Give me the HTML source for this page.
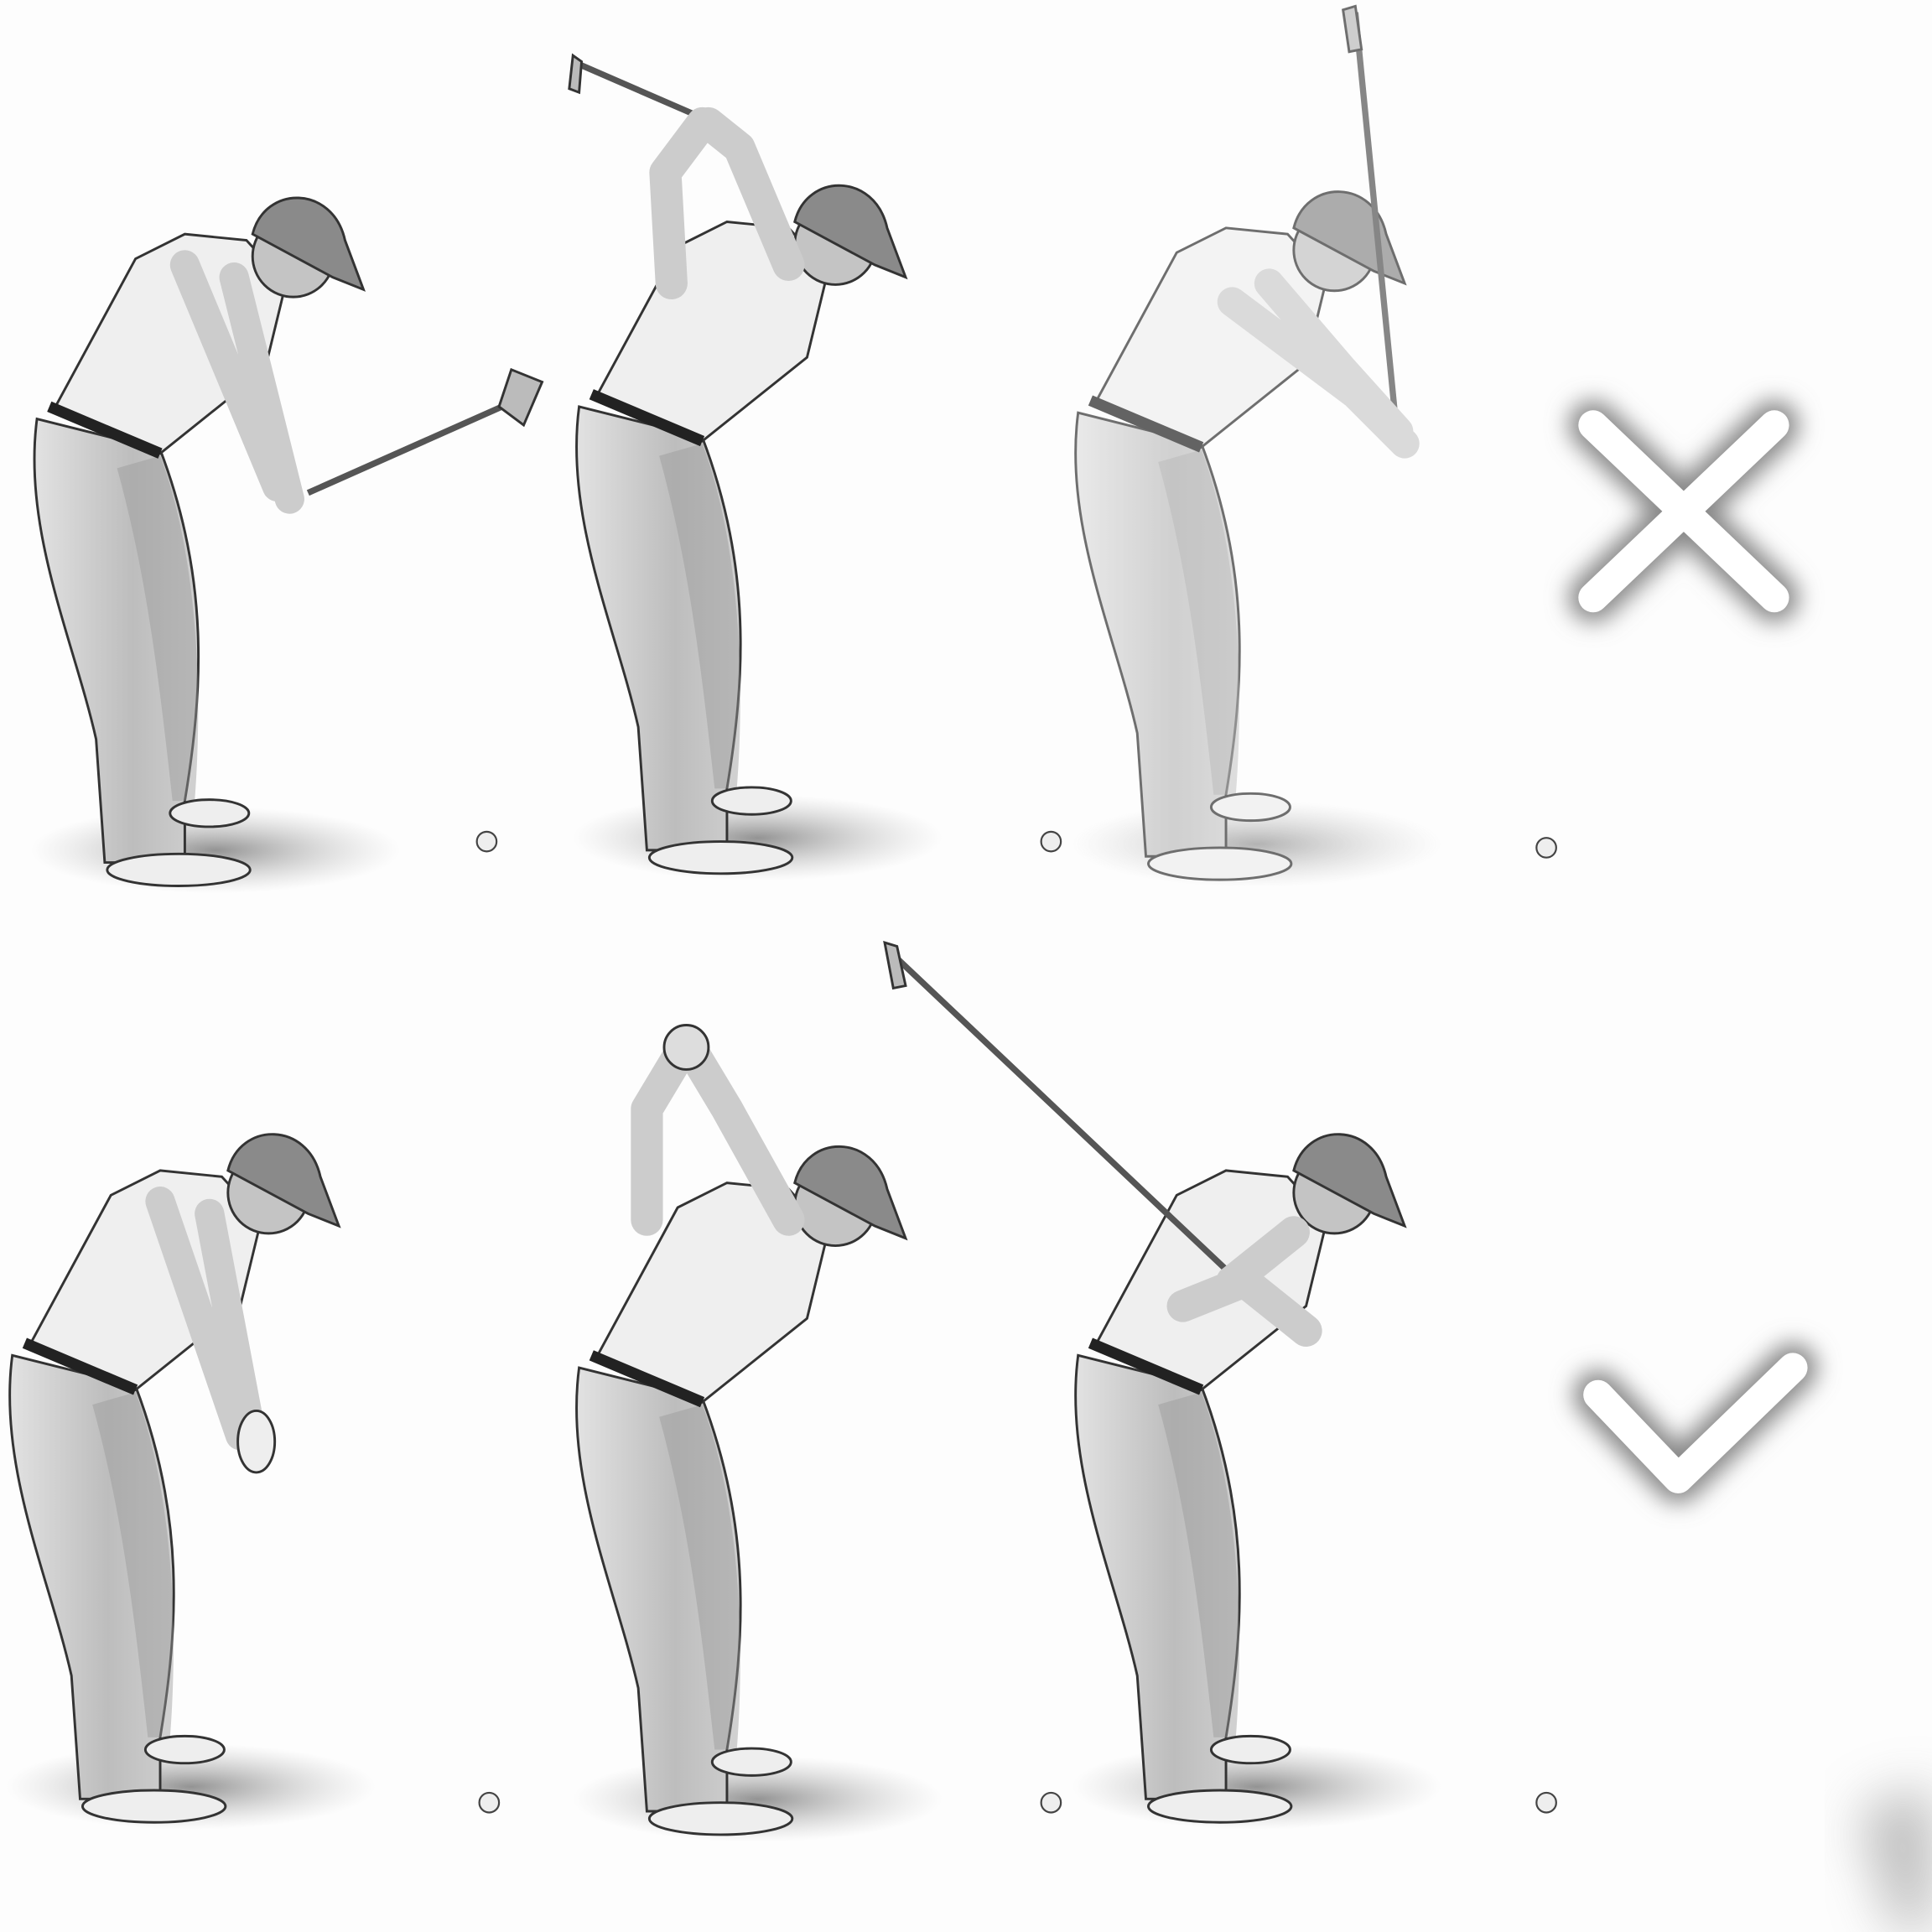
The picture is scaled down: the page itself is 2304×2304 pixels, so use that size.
<!DOCTYPE html>
<html><head><meta charset="utf-8"><style>
html,body{margin:0;padding:0;background:#fdfdfd;}
svg{display:block;}
</style></head><body>
<svg width="2304" height="2304" viewBox="0 0 1568 1568" xmlns="http://www.w3.org/2000/svg">
<defs>
  <filter id="glow" x="-50%" y="-50%" width="200%" height="200%"><feGaussianBlur stdDeviation="9"/></filter>
  <filter id="blur" x="-50%" y="-50%" width="200%" height="200%"><feGaussianBlur stdDeviation="22"/></filter>
  <radialGradient id="shadowGrad"><stop offset="0" stop-color="#666" stop-opacity="0.7"/><stop offset="1" stop-color="#aaa" stop-opacity="0"/></radialGradient>
  <linearGradient id="pants" x1="0" x2="1"><stop offset="0" stop-color="#e2e2e2"/><stop offset="0.6" stop-color="#bdbdbd"/><stop offset="1" stop-color="#cfcfcf"/></linearGradient>
  <g id="body">
    <ellipse cx="175" cy="690" rx="150" ry="35" fill="url(#shadowGrad)"/>
    <path d="M30,340 C18,430 60,520 78,600 L85,700 L150,700 L150,650 C165,560 170,470 130,365 Z" fill="url(#pants)" stroke="#333" stroke-width="2"/>
    <path d="M95,380 C120,470 130,560 140,650 L158,650 C165,560 160,450 130,370 Z" fill="#999" opacity="0.45"/>
    <ellipse cx="170" cy="660" rx="32" ry="11" fill="#eee" stroke="#333" stroke-width="2"/>
    <ellipse cx="145" cy="706" rx="58" ry="13" fill="#eee" stroke="#333" stroke-width="2"/>
    <path d="M45,330 L130,368 L215,300 L232,230 L200,195 L150,190 L110,210 Z" fill="#efefef" stroke="#333" stroke-width="2"/>
    <line x1="40" y1="330" x2="130" y2="368" stroke="#222" stroke-width="9"/>
    <circle cx="238" cy="208" r="33" fill="#c4c4c4" stroke="#333" stroke-width="2"/>
    <path d="M205,190 C215,150 270,150 280,195 L295,235 L270,225 Z" fill="#8a8a8a" stroke="#333" stroke-width="2"/>
  </g>
</defs>

<g>
  <use href="#body" transform="translate(0,0)"/>
  <line x1="250" y1="400" x2="430" y2="320" stroke="#555" stroke-width="5"/>
  <path d="M405,330 L415,300 L440,310 L425,345 Z" fill="#bbb" stroke="#333" stroke-width="2"/>
  <path d="M190,225 L235,405 M150,215 L225,395" stroke="#ccc" stroke-width="24" stroke-linecap="round" fill="none"/>
</g>
<g>
  <use href="#body" transform="translate(440,-10)"/>
  <line x1="580" y1="100" x2="465" y2="50" stroke="#555" stroke-width="5"/>
  <path d="M465,45 L462,72 L470,75 L472,50 Z" fill="#bbb" stroke="#333" stroke-width="2"/>
  <path d="M545,230 L540,140 L570,100 M640,215 L600,120 L575,100" stroke="#ccc" stroke-width="26" stroke-linecap="round" stroke-linejoin="round" fill="none"/>
</g>
<g opacity="0.7">
  <use href="#body" transform="translate(845,-5)"/>
  <line x1="1133" y1="345" x2="1100" y2="10" stroke="#555" stroke-width="5"/>
  <path d="M1090,8 L1100,5 L1105,40 L1095,42 Z" fill="#bbb" stroke="#333" stroke-width="2"/>
  <path d="M1030,230 L1090,300 L1135,350 M1000,245 L1100,320 L1140,360" stroke="#ccc" stroke-width="24" stroke-linecap="round" fill="none"/>
</g>

<g>
  <use href="#body" transform="translate(-20,760)"/>
  <path d="M170,985 L205,1170 M130,975 L195,1165" stroke="#ccc" stroke-width="24" stroke-linecap="round" fill="none"/>
  <ellipse cx="208" cy="1170" rx="15" ry="25" fill="#eee" stroke="#333" stroke-width="2"/>
</g>
<g>
  <use href="#body" transform="translate(440,770)"/>
  <path d="M525,990 L525,900 L555,850 M640,990 L590,900 L560,850" stroke="#ccc" stroke-width="26" stroke-linecap="round" stroke-linejoin="round" fill="none"/>
  <circle cx="557" cy="850" r="18" fill="#ddd" stroke="#333" stroke-width="2"/>
</g>
<g>
  <use href="#body" transform="translate(845,760)"/>
  <line x1="1000" y1="1035" x2="725" y2="775" stroke="#555" stroke-width="5"/>
  <path d="M718,765 L728,768 L735,800 L725,802 Z" fill="#bbb" stroke="#333" stroke-width="2"/>
  <path d="M960,1060 L1010,1040 L1060,1080 M1050,1000 L1000,1040" stroke="#ccc" stroke-width="26" stroke-linecap="round" fill="none"/>
</g>

<g fill="#eee" stroke="#444" stroke-width="1.5">
  <circle cx="395" cy="683" r="8"/>
  <circle cx="853" cy="683" r="8"/>
  <circle cx="1255" cy="688" r="8"/>
  <circle cx="397" cy="1463" r="8"/>
  <circle cx="853" cy="1463" r="8"/>
  <circle cx="1255" cy="1463" r="8"/>
</g>

<g>
  <path d="M1293,345 L1440,485 M1440,345 L1293,485" stroke="#888" stroke-width="40" stroke-linecap="round" filter="url(#glow)"/>
  <path d="M1293,345 L1440,485 M1440,345 L1293,485" stroke="#fff" stroke-width="24" stroke-linecap="round"/>
</g>
<g>
  <path d="M1297,1132 L1362,1200 L1455,1110" stroke="#888" stroke-width="40" stroke-linecap="round" stroke-linejoin="round" fill="none" filter="url(#glow)"/>
  <path d="M1297,1132 L1362,1200 L1455,1110" stroke="#fff" stroke-width="24" stroke-linecap="round" stroke-linejoin="round" fill="none"/>
</g>

<path d="M1510,1470 L1568,1450 L1568,1568 L1540,1568 Z" fill="#999" opacity="0.7" filter="url(#blur)"/>
</svg>
</body></html>
